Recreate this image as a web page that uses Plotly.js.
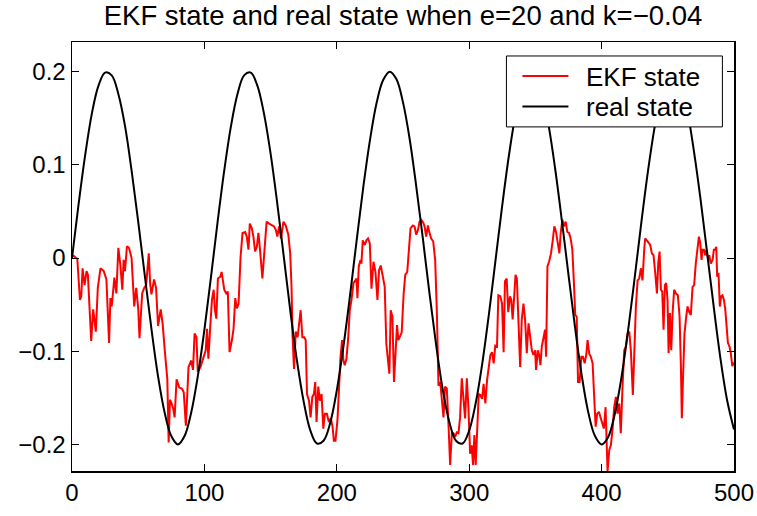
<!DOCTYPE html>
<html>
<head>
<meta charset="utf-8">
<script src="https://cdn.plot.ly/plotly-3.0.1.min.js"></script>
<style>html,body{margin:0;padding:0;background:#fff;}#chart{width:757px;height:516px;}</style>
</head>
<body>
<div id="chart"></div>
<script>
// EKF state (red)
const ekfX = [0,1.5,4,6,7,8,9.5,11,12,14.5,16,18,19.5,21.5,24,26,28,29,30,32,33.5,35,36.5,38,39,40,41.5,43,45,47,48.5,50,51,53,54.5,56,58,59,60,62,63.5,65,67,68.5,70,72,73,74,75,76.5,77.5,79,81,
83,84.4,86,88,90,91.4,92.6,94,95,97,98,99.7,101,102,103,104.4,105.7,107,108,109,110.2,112,113,115,116.5,117.7,119,120.8,122,123.3,124.5,125.8,127.3,128.8,130.8,132,133.3,134.3,135.8,137,138.3,139.6,140.8,142,143.8,145.4,147,148.9,150.9,152.6,154,155.1,156.4,157.9,159.7,161.4,163.4,
164.8,165.8,166.6,167.7,169,170.4,171.4,172.7,174,175.4,176.5,177.5,179,180.2,181.5,182.7,183.7,184.7,186,187.2,188.5,189.8,191,192.5,194,195.5,196.8,197.8,199,200.5,201.6,202.8,204,205,206,207.3,208.6,209.8,211.1,212.6,214,214.9,215.6,216.6,217.9,218.6,219.6,221.1,222.4,223.6,224.9,226.2,227.7,229.2,230.7,231.9,233.2,234.9,236.2,237.4,238.7,239.7,240.7,242,243.2,244.5,245.5,246.5,247.7,249,
250.5,251.7,253.2,254.5,255.7,257.5,258.7,260,261.3,262.5,263.8,265.3,266.3,267.5,268.8,270,271.3,272.8,274.3,275.6,276.8,278.1,279.3,280.6,281.8,283.1,284.4,285.6,286.9,288.1,289.4,290.6,291.9,293.1,294.4,295.6,296.9,298.2,299.4,300.7,301.9,302.9,303.9,304.9,305.9,307.2,308.4,309.7,310.9,312.2,313.5,314.7,316,317.2,318.5,319.7,321,322,323.5,324.8,326,327,328.3,
329.5,330.8,331.8,332.8,333.9,335,336,337.3,338.5,339.7,341,342.2,343.5,344.8,346,347.3,348.5,349.8,350.5,351.8,352.8,353.8,354.8,356.1,357.3,358.1,359.1,360.3,361.8,363.1,364.3,365.6,366.8,368.1,369.1,370.4,371.6,372.9,374.1,375.4,376.6,377.9,379.1,380.1,381.2,382.2,383.4,384.7,385.9,387.2,388.4,389.4,390.7,391.9,393.2,394.5,395.5,396.7,398,399.2,400.5,401.7,403,403.7,404.5,405.8,407,408.3,409.5,410.8,412,413.3,
414.5,415.8,417.1,418.3,419.6,420.9,422.1,423.6,424.9,425.9,427.2,428.4,429.7,430.9,432.2,432.9,434.2,435.5,436.7,438,439.2,440.5,441.8,442.8,443.8,444.8,445.8,446.8,447.8,448.8,449.8,450.6,451.6,452.6,453.6,454.8,456.1,457.6,458.9,459.9,460.6,461.6,462.6,463.9,464.9,466.2,467.4,468.7,469.9,471.2,472.5,473.5,474.5,475.5,476.2,477.3,478.3,479.3,480.3,481.3,482.5,483.8,484.8,485.8,486.6,487.3,488.3,489.3,490.3,491.3,492.4,493.4,494.4,495.4,496.6,497.6,498.7,500];
const ekfY = [0.003,0.002,-0.001,-0.045,-0.041,-0.011,-0.029,-0.014,-0.018,-0.089,-0.055,-0.079,-0.032,-0.011,-0.014,-0.023,-0.091,-0.043,-0.052,-0.021,-0.038,0.011,-0.007,-0.034,-0.002,-0.014,0.0125,0.011,0,-0.052,-0.032,-0.054,-0.086,-0.038,-0.032,-0.029,0.005,-0.027,-0.039,-0.023,-0.032,-0.073,-0.055,-0.071,-0.098,-0.13,-0.198,-0.152,-0.155,-0.162,-0.171,-0.13,-0.139,
-0.14,-0.144,-0.18,-0.117,-0.11,-0.12,-0.081,-0.085,-0.122,-0.117,-0.113,-0.106,-0.099,-0.076,-0.108,-0.074,-0.045,-0.034,-0.056,-0.065,-0.022,-0.02,-0.015,-0.034,-0.038,-0.036,-0.101,-0.088,-0.076,-0.043,-0.054,-0.049,0.001,0.027,0.028,0.023,0.009,0.037,0.032,0.023,0.007,0.012,0.027,0.009,-0.022,0.009,0.039,0.037,0.035,0.034,0.03,0.023,0.034,0.021,0.039,0.035,0.025,
0.005,-0.031,-0.085,-0.119,-0.079,-0.085,-0.074,-0.056,-0.085,-0.085,-0.088,-0.146,-0.153,-0.171,-0.149,-0.146,-0.133,-0.176,-0.138,-0.153,-0.146,-0.183,-0.167,-0.167,-0.176,-0.172,-0.181,-0.196,-0.196,-0.174,-0.142,-0.106,-0.088,-0.11,-0.115,-0.108,-0.086,-0.056,-0.045,-0.027,-0.024,-0.022,-0.043,-0.009,-0.002,-0.006,0.019,0.014,0.019,0.021,0.016,-0.033,-0.004,-0.015,-0.045,-0.013,-0.008,-0.02,-0.031,-0.092,-0.113,-0.124,-0.056,-0.063,-0.133,-0.095,-0.072,-0.088,-0.083,-0.08,
-0.038,-0.018,-0.015,0.016,0.032,0.035,0.034,0.025,0.03,0.039,0.041,0.038,0.034,0.023,0.035,0.027,0.021,0.018,-0.002,-0.059,-0.137,-0.133,-0.149,-0.171,-0.138,-0.14,-0.18,-0.222,-0.188,-0.188,-0.192,-0.187,-0.188,-0.171,-0.129,-0.153,-0.172,-0.129,-0.16,-0.21,-0.201,-0.222,-0.19,-0.222,-0.188,-0.146,-0.147,-0.151,-0.135,-0.156,-0.131,-0.12,-0.104,-0.101,-0.113,-0.094,-0.095,-0.04,-0.041,-0.049,-0.101,-0.025,-0.022,
-0.058,-0.041,-0.045,-0.066,-0.043,-0.018,-0.022,-0.066,-0.117,-0.066,-0.049,-0.066,-0.102,-0.07,-0.086,-0.099,-0.104,-0.099,-0.12,-0.099,-0.104,-0.115,-0.095,-0.084,-0.077,-0.106,-0.009,-0.004,0.005,0.019,0.034,0.028,0.019,0.005,0.027,0.041,0.034,0.039,0.028,0.027,0.021,0.009,-0.027,-0.061,-0.063,-0.133,-0.133,-0.106,-0.106,-0.113,-0.104,-0.088,-0.103,-0.106,-0.113,-0.146,-0.181,-0.167,-0.165,-0.171,-0.178,-0.183,-0.16,-0.21,-0.229,-0.206,-0.201,-0.183,-0.16,-0.149,-0.167,-0.156,
-0.188,-0.138,-0.099,-0.095,-0.081,-0.079,-0.099,-0.147,-0.088,-0.052,-0.024,-0.022,-0.011,-0.024,0.009,0.021,0.019,0.016,0.014,0.005,0.003,-0.016,-0.038,-0.005,0.007,-0.034,-0.036,-0.077,-0.029,-0.027,-0.045,-0.102,-0.059,-0.099,-0.059,-0.034,-0.038,-0.04,-0.063,-0.117,-0.172,-0.124,-0.081,-0.063,-0.052,-0.058,-0.061,-0.031,-0.029,-0.005,0.012,0.023,0.016,-0.002,0.009,0.009,0.003,0.009,0,0.003,-0.006,-0.002,0.009,0.009,0.012,-0.02,-0.016,-0.052,-0.041,-0.04,-0.045,-0.055,-0.073,-0.091,-0.095,-0.102,-0.116,-0.112];

// real state (black), every 5 steps
const realX = [0,5,10,15,20,25,30,35,40,45,50,55,60,65,70,75,80,85,90,95,100,105,110,115,120,125,130,135,140,145,150,155,160,165,170,175,180,185,190,195,200,205,210,215,220,225,230,235,240,245,250,255,260,265,270,275,280,285,290,295,300,305,310,315,320,325,330,335,340,345,350,355,360,365,370,375,380,385,390,395,400,405,410,415,420,425,430,435,440,445,450,455,460,465,470,475,480,485,490,495,500];
const realY = [0,0.058,0.111,0.155,0.185,0.199,0.196,0.176,0.142,0.094,0.039,-0.019,-0.076,-0.127,-0.166,-0.191,-0.2,-0.191,-0.166,-0.127,-0.077,-0.02,0.039,0.094,0.141,0.176,0.196,0.199,0.185,0.155,0.112,0.059,0.001,-0.058,-0.111,-0.154,-0.185,-0.199,-0.196,-0.177,-0.142,-0.095,-0.04,0.019,0.076,0.126,0.166,0.191,0.2,0.192,0.167,0.128,0.077,0.021,-0.038,-0.093,-0.141,-0.176,-0.196,-0.199,-0.185,-0.155,-0.112,-0.059,-0.001,0.057,0.11,0.154,0.184,0.199,0.196,0.177,0.142,0.095,0.04,-0.018,-0.075,-0.126,-0.166,-0.191,-0.2,-0.192,-0.167,-0.128,-0.078,-0.021,0.038,0.093,0.14,0.176,0.196,0.199,0.185,0.156,0.112,0.06,0.002,-0.056,-0.11,-0.154,-0.184];

const xTicks = [0,100,200,300,400,500];
const yTicks = [-0.2,-0.1,0,0.1,0.2];
const yTickText = ['\u22120.2','\u22120.1','0','0.1','0.2'];
const titleText = 'EKF state and real state when e=20 and k=\u22120.04';
const names = ['EKF state','real state'];
const colors = ['#ff0000','#000000'];

const traces = [
  {x: ekfX, y: ekfY, type: 'scatter', mode: 'lines', name: names[0], line: {color: colors[0], width: 2}},
  {x: realX, y: realY, type: 'scatter', mode: 'lines', name: names[1], line: {color: colors[1], width: 2, shape: 'spline', smoothing: 1}}
];

const axisCommon = {
  ticks: 'inside', ticklen: 7, tickwidth: 1, tickcolor: '#000',
  showline: true, linecolor: '#000', linewidth: 1.5, mirror: 'allticks',
  showgrid: false, zeroline: false, tickfont: {size: 24, color: '#000'}
};

// Legend drawn as a boxed key in paper coordinates
const M = {l: 71.5, r: 23.4, t: 42, b: 44.5};
const W = 757, H = 516;
const pw = W - M.l - M.r, ph = H - M.t - M.b;
const px = v => (v - M.l) / pw;
const py = v => (H - M.b - v) / ph;
const box = {x0: 506, x1: 722, y0: 56, y1: 127};
const rowY = [76, 106.5];
const shapes = [
  {type: 'rect', xref: 'paper', yref: 'paper', x0: px(box.x0), x1: px(box.x1), y0: py(box.y1), y1: py(box.y0),
   fillcolor: '#fff', line: {color: '#000', width: 1}, layer: 'above'}
];
const annotations = [];
names.forEach((n, i) => {
  shapes.push({type: 'line', xref: 'paper', yref: 'paper', x0: px(522), x1: px(568), y0: py(rowY[i]), y1: py(rowY[i]),
               line: {color: colors[i], width: 2}, layer: 'above'});
  annotations.push({xref: 'paper', yref: 'paper', x: px(584), y: py(rowY[i] + 1), xanchor: 'left', yanchor: 'middle',
                    text: n, showarrow: false, font: {size: 26, color: '#000'}});
});

const layout = {
  width: W, height: H,
  margin: {l: M.l, r: M.r, t: M.t, b: M.b, pad: 0},
  paper_bgcolor: '#fff', plot_bgcolor: '#fff',
  font: {family: '"Liberation Sans", Arial, Helvetica, sans-serif', size: 24, color: '#000'},
  title: {text: titleText, font: {size: 27.5, color: '#000'}, x: 0.5, xref: 'paper', xanchor: 'center',
          y: 1 - 15/516, yref: 'container', yanchor: 'middle'},
  xaxis: Object.assign({range: [0, 500], tickvals: xTicks, ticktext: xTicks.map(String)}, axisCommon),
  yaxis: Object.assign({range: [-0.2285, 0.2318], tickvals: yTicks, ticktext: yTickText}, axisCommon),
  showlegend: false,
  shapes: shapes,
  annotations: annotations
};

Plotly.newPlot('chart', traces, layout, {displayModeBar: false, staticPlot: true});
</script>
</body>
</html>
